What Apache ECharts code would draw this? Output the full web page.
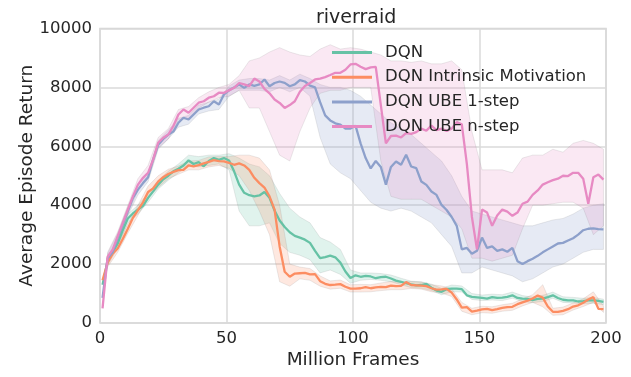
<!DOCTYPE html>
<html>
<head>
<meta charset="utf-8">
<script src="https://cdn.jsdelivr.net/npm/echarts@6/dist/echarts.min.js"></script>
<style>html,body{margin:0;padding:0;background:#fff}#c{width:631px;height:377px}</style>
</head>
<body>
<div id="c"></div>
<script>
// ---- data ----
const seriesNames = ['DQN', 'DQN Intrinsic Motivation', 'DQN UBE 1-step', 'DQN UBE n-step'];
const xTicks = [0, 50, 100, 150, 200];
const yTicks = [0, 2000, 4000, 6000, 8000, 10000];

// sample positions (million frames) for the mean lines: 1,3,...,199
const frames = Array.from({length: 100}, (_, i) => 1 + 2 * i);
// sample positions for the shaded bands: 3,7,...,199
const bandFrames = Array.from({length: 50}, (_, i) => 3 + 4 * i);

const dqn = [1300,2100,2400,2700,3150,3550,3720,3850,3980,4250,
  4470,4700,4880,5000,5150,5240,5350,5520,5400,5460,
  5320,5500,5600,5540,5600,5520,5150,4700,4420,4340,
  4300,4330,4450,4250,3820,3480,3260,3080,2960,2900,
  2830,2720,2450,2200,2240,2290,2230,2050,1750,1530,
  1620,1570,1600,1580,1520,1560,1570,1510,1440,1400,
  1350,1310,1280,1290,1330,1200,1100,1060,1150,1170,
  1170,1150,940,890,870,850,830,880,850,860,
  890,940,850,830,820,780,820,830,880,940,
  850,790,770,770,730,740,770,770,750,715];

const intrinsic = [1450,2050,2350,2530,2850,3200,3570,3830,4100,4450,
  4570,4800,4950,5060,5130,5190,5200,5350,5320,5360,
  5420,5470,5530,5500,5490,5440,5372,5420,5350,5200,
  4930,4750,4600,4300,3850,2600,1740,1570,1680,1690,
  1700,1650,1660,1420,1330,1290,1300,1320,1230,1170,
  1170,1180,1220,1180,1210,1230,1220,1270,1250,1260,
  1390,1290,1280,1270,1250,1180,1130,1140,1160,1030,
  800,520,540,390,420,460,480,440,470,510,
  540,550,640,700,760,830,930,860,560,380,
  380,410,470,560,600,690,800,880,480,470];

const ube1 = [850,2200,2400,2900,3350,3800,4250,4530,4750,4950,
  5550,6050,6250,6400,6500,6800,6970,6910,7080,7250,
  7310,7360,7530,7420,7760,7900,8000,8100,7985,8100,
  8050,8100,8270,8040,8150,8200,8155,8040,8100,8250,
  8200,8060,8000,7500,7050,6880,6780,6735,6600,6600,
  6700,6100,5600,5250,5500,5300,4700,5300,5485,5372,
  5713,5315,5258,4804,4690,4463,4350,4009,3838,3600,
  3300,2500,2550,2350,2450,2900,2550,2600,2450,2500,
  2420,2550,2100,2000,2100,2180,2280,2400,2500,2600,
  2700,2720,2800,2880,3000,3150,3200,3210,3190,3180];

const ubeN = [500,2250,2490,2950,3400,3850,4300,4700,4930,5100,
  5550,6120,6290,6400,6690,7080,7250,7140,7310,7480,
  7530,7650,7700,7820,7814,7900,7985,8150,8100,8041,
  8300,8200,7950,7800,7587,7473,7303,7400,7530,7850,
  8050,8150,8269,8300,8350,8420,8496,8496,8600,8780,
  8800,8700,8620,8680,8700,7400,6100,6350,6360,6300,
  6450,6420,6480,6600,6530,6700,6550,6600,6520,6600,
  6820,6750,5400,3600,2500,3850,3750,3300,3650,3850,
  3780,3640,3750,4050,4122,4350,4500,4700,4780,4850,
  4900,5000,4990,5100,5100,4900,4050,4950,5040,4870];

// band edges at bandFrames
const dqnLo = [1950,2550,3400,3700,4100,4550,4850,5100,5350,5300,
  5350,5400,5200,3800,3300,3300,3400,2700,2400,2300,
  2150,1700,1800,1650,1350,1450,1480,1450,1400,1300,
  1200,1180,1100,960,1060,1050,800,760,780,760,
  840,730,690,730,840,700,680,650,670,620];
const dqnHi = [2250,2850,3700,4000,4400,4850,5150,5400,5700,5650,
  5700,5700,5750,5600,5400,5300,5000,4400,3900,3600,
  3400,2900,2750,2500,1800,1700,1700,1680,1630,1520,
  1420,1400,1320,1180,1290,1260,1000,950,980,960,
  1050,930,880,940,1050,890,870,840,870,810];
const intrinsicLo = [1900,2400,3050,3650,4250,4600,4900,5050,5200,5200,
  5300,5350,5250,5000,4500,3800,3000,1400,1250,1500,
  1450,1250,1150,1180,1050,1050,1060,1100,1130,1130,
  1170,1150,1060,1020,900,400,280,350,330,400,
  430,580,700,550,260,280,440,560,700,360];
const intrinsicHi = [2200,2700,3350,4000,4650,5000,5220,5330,5500,5520,
  5640,5650,5650,5700,5700,5600,5200,4000,2000,1900,
  1850,1600,1430,1460,1300,1310,1300,1360,1410,1390,
  1410,1390,1300,1260,1160,700,500,570,550,620,
  670,820,960,1300,500,540,680,820,1060,580];
const ube1Lo = [2050,2750,3650,4350,4800,5900,6250,6650,6750,7100,
  7200,7250,7700,7900,7900,7900,7850,8000,7850,8000,
  7700,6300,5400,5100,4900,4500,4100,3900,3800,3900,
  3800,3600,3400,3000,2600,1700,1700,1900,1800,1700,
  1600,1400,1500,1700,1900,2000,2200,2400,2500,2500];
const ube1Hi = [2350,3050,3950,4700,5100,6200,6550,6950,7050,7400,
  7500,7600,8050,8250,8300,8300,8250,8400,8250,8450,
  8300,8100,8000,8000,7900,7700,7400,7100,6800,6600,
  6400,6100,5800,5500,5000,4300,3800,3700,3600,3500,
  3400,3300,3300,3400,3500,3550,3700,3900,4000,4050];
const ubeNLo = [2100,2800,3700,4500,4900,5950,6250,6900,6950,7300,
  7500,7650,7700,7900,7300,7300,6500,5700,5500,6500,
  7300,7800,7900,7900,8000,8000,8000,5500,4300,4200,
  4200,4200,4000,3800,3600,3200,2200,2200,2100,2200,
  2300,3200,4000,4000,4050,4100,4100,3900,3000,3300];
const ubeNHi = [2400,3100,4000,4900,5350,6300,6600,7250,7350,7650,
  7850,8000,8100,8400,8900,9000,9200,9350,9200,9100,
  9050,9300,9450,9300,9350,9300,9200,9100,8900,8900,
  8850,8900,8800,8800,8900,8600,6500,5200,5200,5200,
  5100,5600,5700,5700,5900,5800,6100,6200,6100,5900];

// ---- chart ----
const colors = ['#66c2a5', '#fc8d62', '#8da0cb', '#e78ac3'];
const bandFill = ['rgba(102,194,165,0.2)', 'rgba(252,141,98,0.2)', 'rgba(141,160,203,0.22)', 'rgba(231,138,195,0.2)'];
const means = [dqn, intrinsic, ube1, ubeN];
const lows = [dqnLo, intrinsicLo, ube1Lo, ubeNLo];
const highs = [dqnHi, intrinsicHi, ube1Hi, ubeNHi];
const FONT = 'DejaVu Sans';
const TXT = '#262626';

const series = [];
means.forEach((m, k) => {
  const data = bandFrames.map((x, i) => [x, lows[k][i], highs[k][i]]);
  series.push({
    type: 'custom', name: 'band' + k, silent: true, z: 1,
    data: data,
    encode: {x: 0, y: [1, 2]},
    renderItem: function (params, api) {
      if (params.dataIndex !== 0) return null;
      const top = data.map(d => api.coord([d[0], d[2]]));
      const bot = data.map(d => api.coord([d[0], d[1]])).reverse();
      return {
        type: 'polygon',
        shape: {points: top.concat(bot)},
        style: {fill: bandFill[k], stroke: 'rgba(120,120,120,0.15)', lineWidth: 1}
      };
    }
  });
});
means.forEach((m, k) => {
  series.push({
    type: 'line', name: seriesNames[k], color: colors[k],
    showSymbol: false, z: 3,
    lineStyle: {color: colors[k], width: 2.3},
    data: frames.map((x, i) => [x, m[i]])
  });
});

const chart = echarts.init(document.getElementById('c'), null, {renderer: 'canvas'});
chart.setOption({
  animation: false,
  backgroundColor: '#ffffff',
  title: {
    text: 'riverraid', left: 311, top: 4,
    textStyle: {fontFamily: FONT, fontSize: 19, fontWeight: 'normal', color: TXT}
  },
  legend: {
    data: seriesNames, orient: 'vertical', left: 332, top: 44, padding: 0,
    icon: 'rect', itemWidth: 40, itemHeight: 3, itemGap: 7.7,
    textStyle: {fontFamily: FONT, fontSize: 16.5, lineHeight: 17, color: TXT, padding: [0, 0, 0, 8]}
  },
  grid: {left: 100, right: 25, top: 28.5, bottom: 54, show: true, borderColor: '#d4d4d4', borderWidth: 1.5, backgroundColor: 'transparent'},
  xAxis: {
    type: 'value', min: xTicks[0], max: xTicks[xTicks.length - 1], interval: 50,
    name: 'Million Frames', nameLocation: 'middle', nameGap: 28, nameMoveOverlap: false,
    nameTextStyle: {fontFamily: FONT, fontSize: 18.5, color: TXT},
    axisLine: {show: false}, axisTick: {show: false},
    axisLabel: {fontFamily: FONT, fontSize: 16.5, color: TXT, margin: 7, formatter: v => String(v)},
    splitLine: {show: true, lineStyle: {color: '#dadada', width: 1.5}}
  },
  yAxis: {
    type: 'value', min: yTicks[0], max: yTicks[yTicks.length - 1], interval: 2000,
    name: 'Average Episode Return', nameLocation: 'middle', nameGap: 63, nameMoveOverlap: false,
    nameTextStyle: {fontFamily: FONT, fontSize: 18.5, color: TXT},
    axisLine: {show: false}, axisTick: {show: false},
    axisLabel: {fontFamily: FONT, fontSize: 16.5, color: TXT, margin: 8, formatter: v => String(v)},
    splitLine: {show: true, lineStyle: {color: '#dadada', width: 1.5}}
  },
  series: series
});
</script>
</body>
</html>
